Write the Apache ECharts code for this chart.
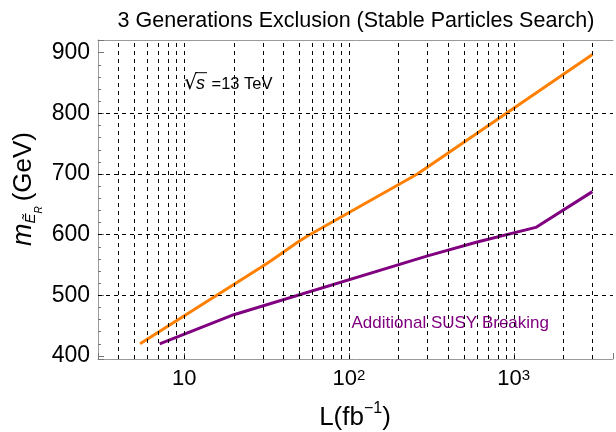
<!DOCTYPE html>
<html>
<head>
<meta charset="utf-8">
<script src="https://cdn.jsdelivr.net/npm/echarts@6/dist/echarts.min.js"></script>
<style>
html,body{margin:0;padding:0;background:#fff;}
#chart{width:616px;height:432px;}
</style>
</head>
<body>
<div id="chart"></div>
<script>
// ---- data ----
const xGridValues = [4,5,6,7,8,9,10,20,30,40,50,60,70,80,90,100,200,300,400,500,600,700,800,900,1000,2000,3000];
const yGridValues = [500,600,700,800];
const xTickLabels = [10,100,1000];
const orangeL = [5.4, 29.6, 34, 49, 57, 260, 3000];
const orangeM = [420, 547, 558, 588, 599, 700, 897];
const purpleL = [7.1, 20, 300, 600, 1360, 3000];
const purpleM = [420, 468, 565, 588, 612, 671];

const FONT = 'Liberation Sans, Arial, sans-serif';
const chart = echarts.init(document.getElementById('chart'), null, {renderer:'canvas'});

function pairs(xs, ys){ return xs.map((x,i)=>[x, ys[i]]); }

const option = {
  animation: false,
  backgroundColor: '#fff',
  textStyle: {fontFamily: FONT},
  grid: {left: 98, right: -1, top: 40, bottom: 73, containLabel: false},
  xAxis: [{
    type: 'log', logBase: 10, min: 3, max: 4000,
    axisLine: {show: true, lineStyle: {color: '#9a9a9a', width: 1}},
    axisTick: {show: true, inside: true, length: 6, lineStyle: {color: '#777'}},
    splitLine: {show: false},
    axisLabel: {
      margin: 9, color: '#000',
      formatter: function(v){
        const e = Math.round(Math.log10(v));
        if (!xTickLabels.includes(Math.pow(10,e)) || Math.abs(v - Math.pow(10,e)) > 1e-6*v) return '';
        return e === 1 ? '{b|10}' : '{b|10}{s|' + e + '}';
      },
      rich: {
        b: {fontSize: 22, lineHeight: 26, verticalAlign: 'top', fontFamily: FONT, color: '#000'},
        s: {fontSize: 15, lineHeight: 11, verticalAlign: 'top', fontFamily: FONT, color: '#000'}
      }
    }
  }, {
    type: 'log', logBase: 10, min: 3, max: 4000, position: 'top',
    axisLine: {show: true, lineStyle: {color: '#9a9a9a', width: 1}},
    axisTick: {show: false}, axisLabel: {show: false}, splitLine: {show: false}
  }],
  yAxis: {
    type: 'value', min: 395, max: 921,
    axisLine: {show: true, lineStyle: {color: '#9a9a9a', width: 1}},
    axisTick: {show: true, inside: true, length: 6, lineStyle: {color: '#777'}},
    minorTick: {show: true, splitNumber: 5, length: 3, lineStyle: {color: '#777'}},
    splitLine: {show: false},
    axisLabel: {
      fontSize: 23, margin: 8, color: '#000', fontFamily: FONT,
      formatter: function(v){ return (Math.round(v) % 100 === 0 && Math.abs(v - Math.round(v)) < 1e-6) ? String(v) : ''; }
    }
  },
  series: [{
    type: 'line', name: 'grid', data: [], z: 1, silent: true,
    markLine: {
      silent: true, symbol: ['none','none'], animation: false,
      label: {show: false},
      lineStyle: {type: [4,4], color: '#000', width: 1},
      emphasis: {disabled: true},
      data: xGridValues.map(v => ({xAxis: v})).concat(yGridValues.map(v => ({yAxis: v})))
    }
  }, {
    type: 'line', name: 'Exclusion', data: pairs(orangeL, orangeM), z: 3,
    showSymbol: false, symbol: 'none',
    lineStyle: {color: '#FF8000', width: 3}, itemStyle: {color: '#FF8000'}
  }, {
    type: 'line', name: 'Additional SUSY Breaking', data: pairs(purpleL, purpleM), z: 3,
    showSymbol: false, symbol: 'none',
    lineStyle: {color: '#800080', width: 3}, itemStyle: {color: '#800080'}
  }],
  graphic: [
    {type: 'text', x: 356, y: 21, style: {text: '3 Generations Exclusion (Stable Particles Search)', font: '21.5px ' + FONT, fill: '#000', align: 'center', verticalAlign: 'middle'}},
    // x-axis title
    {type: 'text', x: 355, y: 416, style: {
      text: '{m|L(fb}{s|−1}{m|)}', align: 'center', verticalAlign: 'middle',
      rich: {
        m: {fontSize: 26, lineHeight: 30, verticalAlign: 'bottom', fontFamily: FONT, fill: '#000'},
        s: {fontSize: 16, lineHeight: 18, verticalAlign: 'top', fontFamily: FONT, fill: '#000'}
      }}},
    // y-axis title
    {type: 'text', x: 26, y: 189, rotation: Math.PI/2, style: {
      text: '{m|m}{e|Ẽ}{r|R}{g|(GeV)}', align: 'center', verticalAlign: 'middle',
      rich: {
        m: {fontSize: 27, lineHeight: 27, verticalAlign: 'bottom', padding: [0,0,7,0], fontStyle: 'italic', fontFamily: FONT, fill: '#000'},
        e: {fontSize: 15, lineHeight: 15, verticalAlign: 'bottom', padding: [0,0,6,0], fontStyle: 'italic', fontFamily: FONT, fill: '#000'},
        r: {fontSize: 10, lineHeight: 36, verticalAlign: 'bottom', padding: [0,5,0,0], fontStyle: 'italic', fontFamily: FONT, fill: '#000'},
        g: {fontSize: 26, lineHeight: 26, verticalAlign: 'bottom', padding: [0,0,7,0], fontFamily: FONT, fill: '#000'}
      }}},
    // sqrt(s) = 13 TeV annotation
    {type: 'text', x: 184, y: 84, style: {text: '√', font: '21px DejaVu Sans', fill: '#000', align: 'left', verticalAlign: 'middle'}},
    {type: 'line', shape: {x1: 195.5, y1: 72.7, x2: 207, y2: 72.7}, style: {stroke: '#000', lineWidth: 1}},
    {type: 'text', x: 196, y: 84, style: {text: 's', font: 'italic 18px ' + FONT, fill: '#000', align: 'left', verticalAlign: 'middle'}},
    {type: 'text', x: 211.5, y: 84.5, style: {text: '=13 TeV', font: '16.5px ' + FONT, fill: '#000', align: 'left', verticalAlign: 'middle'}},
    // purple annotation
    {type: 'text', x: 351.5, y: 323.5, style: {text: 'Additional SUSY Breaking', font: '17px ' + FONT, fill: '#800080', align: 'left', verticalAlign: 'middle'}}
  ]
};
chart.setOption(option);
</script>
</body>
</html>
